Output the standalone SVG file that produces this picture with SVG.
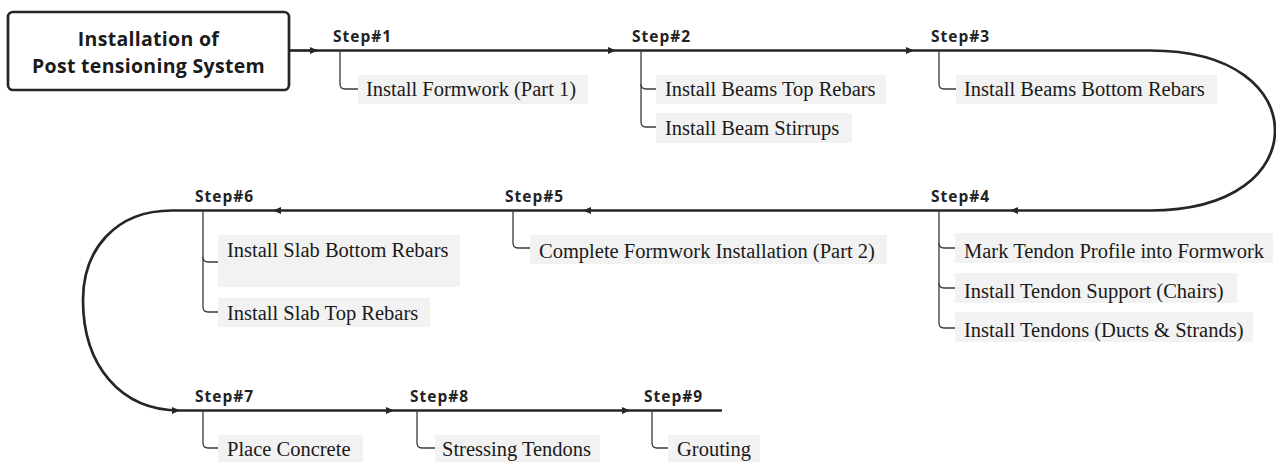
<svg xmlns="http://www.w3.org/2000/svg" width="1276" height="462" viewBox="0 0 1276 462">
<defs>
<style>
.bg{fill:#ffffff}
.main{fill:none;stroke:#262626;stroke-width:2.7}
.stem{fill:none;stroke:#3a3a3a;stroke-width:1.3}
.box{fill:#f2f2f2}
.lbl{font-family:"Liberation Serif","Times New Roman",serif;font-size:20.5px;fill:#1a1a1a}
.step{font-family:"Open Sans","DejaVu Sans",sans-serif;font-size:15.5px;font-weight:bold;fill:#222;letter-spacing:1px}
.title{font-family:"Open Sans","DejaVu Sans",sans-serif;font-size:19.5px;font-weight:bold;fill:#1a1a1a;text-anchor:middle;letter-spacing:0.3px}
.tbox{fill:#fff;stroke:#262626;stroke-width:2.7}
</style>
<marker id="arr" markerUnits="userSpaceOnUse" markerWidth="9" markerHeight="8" refX="8" refY="4" orient="auto">
<path d="M0,0.5 L8,4 L0,7.5 z" fill="#262626"/>
</marker>
</defs>
<rect class="bg" x="0" y="0" width="1276" height="462"/>

<g id="connectors">
<path class="main" d="M289,50.5 H318" marker-end="url(#arr)"/>
<path class="main" d="M318,50.5 H616" marker-end="url(#arr)"/>
<path class="main" d="M616,50.5 H914" marker-end="url(#arr)"/>
<path class="main" d="M914,50.5 H1150 C1235,50.5 1275,90 1275,130.5 C1275,171 1235,210.5 1150,210.5 H1010" marker-end="url(#arr)"/>
<path class="main" d="M1010,210.5 H583" marker-end="url(#arr)"/>
<path class="main" d="M583,210.5 H273" marker-end="url(#arr)"/>
<path class="main" d="M273,210.5 H172 C115,210.5 83,250 83,300 C83,365 120,410.5 180,410.5" marker-end="url(#arr)"/>
<path class="main" d="M180,410.5 H394" marker-end="url(#arr)"/>
<path class="main" d="M394,410.5 H630" marker-end="url(#arr)"/>
<path class="main" d="M630,410.5 H722"/>
</g>

<g id="title">
<rect class="tbox" x="8" y="12" width="281" height="78" rx="5"/>
<text class="title" x="148.5" y="45.5">Installation of</text>
<text class="title" x="148.5" y="72.5">Post tensioning System</text>
</g>

<g id="step1">
<text class="step" x="333" y="41.5">Step#1</text>
<path class="stem" d="M340,50.5 V84 Q340,89 345,89 H358"/>
<rect class="box" x="358" y="75" width="230" height="29"/>
<text class="lbl" x="366" y="96">Install Formwork (Part 1)</text>
</g>

<g id="step2">
<text class="step" x="632" y="41.5">Step#2</text>
<path class="stem" d="M641,50.5 V122 Q641,127 646,127 H656"/>
<path class="stem" d="M641,84 Q641,89 646,89 H656"/>
<rect class="box" x="656" y="75" width="230" height="29"/>
<text class="lbl" x="665" y="96">Install Beams Top Rebars</text>
<rect class="box" x="656" y="113" width="196" height="30"/>
<text class="lbl" x="665" y="135">Install Beam Stirrups</text>
</g>

<g id="step3">
<text class="step" x="931" y="41.5">Step#3</text>
<path class="stem" d="M939,50.5 V84 Q939,89 944,89 H956"/>
<rect class="box" x="956" y="75" width="261" height="29"/>
<text class="lbl" x="964" y="96">Install Beams Bottom Rebars</text>
</g>

<g id="step4">
<text class="step" x="931" y="201.5">Step#4</text>
<path class="stem" d="M939,210.5 V323 Q939,328 944,328 H955"/>
<path class="stem" d="M939,243 Q939,248 944,248 H955"/>
<path class="stem" d="M939,283 Q939,288 944,288 H955"/>
<rect class="box" x="955" y="233" width="318" height="30"/>
<text class="lbl" x="964" y="258">Mark Tendon Profile into Formwork</text>
<rect class="box" x="955" y="273" width="282" height="30"/>
<text class="lbl" x="964" y="298">Install Tendon Support (Chairs)</text>
<rect class="box" x="955" y="312" width="298" height="30"/>
<text class="lbl" x="964" y="337">Install Tendons (Ducts &amp; Strands)</text>
</g>

<g id="step5">
<text class="step" x="505" y="201.5">Step#5</text>
<path class="stem" d="M513,210.5 V243 Q513,248 518,248 H530"/>
<rect class="box" x="530" y="235" width="357" height="29"/>
<text class="lbl" x="539" y="258">Complete Formwork Installation (Part 2)</text>
</g>

<g id="step6">
<text class="step" x="195" y="201.5">Step#6</text>
<path class="stem" d="M203,210.5 V307 Q203,312 208,312 H218"/>
<path class="stem" d="M203,257 Q203,262 208,262 H218"/>
<rect class="box" x="218" y="235" width="242" height="52"/>
<text class="lbl" x="227" y="257">Install Slab Bottom Rebars</text>
<rect class="box" x="218" y="298" width="212" height="29"/>
<text class="lbl" x="227" y="320">Install Slab Top Rebars</text>
</g>

<g id="step7">
<text class="step" x="195" y="401.5">Step#7</text>
<path class="stem" d="M203,410.5 V443 Q203,448 208,448 H218"/>
<rect class="box" x="218" y="435" width="145" height="27"/>
<text class="lbl" x="227" y="456">Place Concrete</text>
</g>

<g id="step8">
<text class="step" x="410" y="401.5">Step#8</text>
<path class="stem" d="M417,410.5 V443 Q417,448 422,448 H435"/>
<rect class="box" x="435" y="435" width="165" height="27"/>
<text class="lbl" x="442" y="456">Stressing Tendons</text>
</g>

<g id="step9">
<text class="step" x="644" y="401.5">Step#9</text>
<path class="stem" d="M652,410.5 V443 Q652,448 657,448 H668"/>
<rect class="box" x="668" y="435" width="92" height="27"/>
<text class="lbl" x="677" y="456">Grouting</text>
</g>
</svg>
